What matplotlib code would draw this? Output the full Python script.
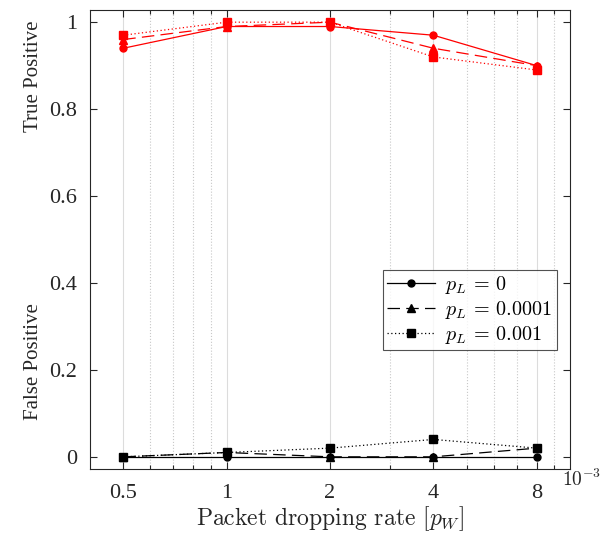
import matplotlib
matplotlib.use("Agg")
import matplotlib.pyplot as plt
from matplotlib.ticker import FixedLocator, NullFormatter, FixedFormatter

# Data
x_vals = [0.5, 1, 2, 4, 8]          # packet dropping rate (x 1e-3)
x_labels = ["0.5", "1", "2", "4", "8"]
series_labels = [r"$p_L$ = 0", r"$p_L$ = 0.0001", r"$p_L$ = 0.001"]
tp_pl0 = [0.94, 0.99, 0.99, 0.97, 0.90]
tp_pl1 = [0.96, 0.99, 1.00, 0.94, 0.90]
tp_pl2 = [0.97, 1.00, 1.00, 0.92, 0.89]
fp_pl0 = [0.00, 0.00, 0.00, 0.00, 0.00]
fp_pl1 = [0.00, 0.01, 0.00, 0.00, 0.02]
fp_pl2 = [0.00, 0.01, 0.02, 0.04, 0.02]
y_ticks = [0, 0.2, 0.4, 0.6, 0.8, 1]
y_tick_labels = ["0", "0.2", "0.4", "0.6", "0.8", "1"]

plt.rcParams["font.family"] = ["cmr10", "DejaVu Serif"]
plt.rcParams["mathtext.fontset"] = "cm"
plt.rcParams["axes.formatter.use_mathtext"] = True

TXT = "#262626"
fig = plt.figure(figsize=(6.0, 5.4), dpi=100)
ax = fig.add_axes([90/600, 1 - 469/540, (570 - 90)/600, (469 - 10)/540])

styles = [("-", "o", 5), ((0, (10, 5)), "^", 5.5), ((0, (1, 2)), "s", 5.5)]
tp = [tp_pl0, tp_pl1, tp_pl2]
fp = [fp_pl0, fp_pl1, fp_pl2]
for (ls, mk, ms), yv in zip(styles, tp):
    ax.plot(x_vals, yv, color="red", linestyle=ls, marker=mk, markersize=ms, linewidth=0.9)
handles = []
for (ls, mk, ms), yv, lab in zip(styles, fp, series_labels):
    h, = ax.plot(x_vals, yv, color="black", linestyle=ls, marker=mk, markersize=ms, linewidth=0.9, label=lab)
    handles.append(h)

ax.set_xscale("log")
ax.set_xlim(0.4, 10)
ax.set_ylim(-0.028, 1.028)
ax.xaxis.set_major_locator(FixedLocator(x_vals))
ax.xaxis.set_major_formatter(FixedFormatter(x_labels))
ax.xaxis.set_minor_locator(FixedLocator([0.6, 0.7, 0.8, 0.9, 3, 5, 6, 7, 9]))
ax.xaxis.set_minor_formatter(NullFormatter())
ax.set_yticks(y_ticks)
ax.set_yticklabels(y_tick_labels)

ax.grid(True, which="major", axis="x", color="#dcdcdc", linestyle="-", linewidth=0.8)
ax.grid(True, which="minor", axis="x", color="#c8c8c8", linestyle=":", linewidth=0.8)
ax.set_axisbelow(True)

ax.tick_params(which="both", direction="in", top=True, right=True, colors=TXT, width=0.8)
ax.tick_params(which="major", length=5)
ax.tick_params(which="minor", length=3)
ax.tick_params(axis="x", which="major", pad=11)
ax.tick_params(axis="y", which="major", pad=9)
for lab in ax.get_xticklabels() + ax.get_yticklabels():
    lab.set_fontfamily("Liberation Serif")
    lab.set_fontsize(16)
for sp in ax.spines.values():
    sp.set_color(TXT)
    sp.set_linewidth(0.8)

ax.set_xlabel(r"Packet dropping rate [$p_W$]", fontsize=17, color=TXT, labelpad=0.5)
fig.text(34/600, 1 - 76/540, "True Positive", rotation=90, ha="center", va="center",
         fontsize=15, color=TXT, family="Liberation Serif")
fig.text(34/600, 1 - 362/540, "False Positive", rotation=90, ha="center", va="center",
         fontsize=15, color=TXT, family="Liberation Serif")
fig.text(562/600, 1 - 486/540, r"10$^{\mathrm{-3}}$", ha="left", va="baseline", fontsize=14, color=TXT)

leg = ax.legend(handles=handles, loc="upper left", bbox_to_anchor=((383 - 90)/480, 1 - (270 - 10)/459),
                fontsize=14.5, frameon=True, fancybox=False, edgecolor=TXT,
                handlelength=2.4, handletextpad=0.5, borderpad=0.2, labelspacing=0.15, borderaxespad=0)
leg.get_frame().set_linewidth(0.8)

fig.savefig("out.png", dpi=100)
